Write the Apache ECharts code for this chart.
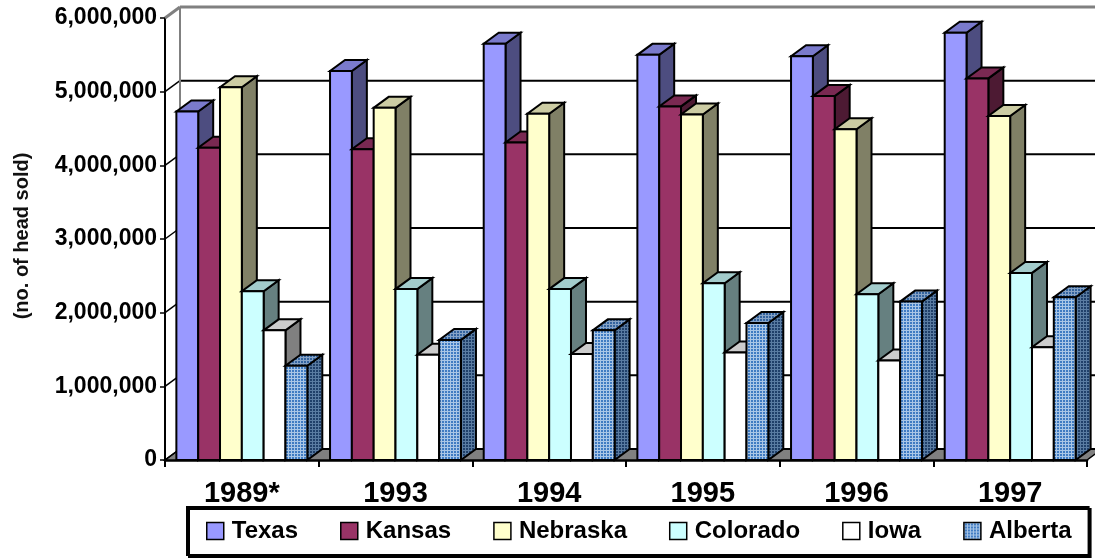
<!DOCTYPE html>
<html>
<head>
<meta charset="utf-8">
<script src="https://cdn.jsdelivr.net/npm/echarts@6/dist/echarts.min.js"></script>
<style>
  html, body { margin: 0; padding: 0; background: #fff; }
  #chart { width: 1095px; height: 559px; }
</style>
</head>
<body>
<div id="chart"></div>
<script>
// Cattle sold per year, by state / province (no. of head)
const categories = ['1989*', '1993', '1994', '1995', '1996', '1997'];
const seriesNames = ['Texas', 'Kansas', 'Nebraska', 'Colorado', 'Iowa', 'Alberta'];
const texas    = [4730000, 5280000, 5650000, 5500000, 5480000, 5800000];
const kansas   = [4240000, 4220000, 4310000, 4800000, 4940000, 5180000];
const nebraska = [5060000, 4780000, 4700000, 4690000, 4490000, 4670000];
const colorado = [2290000, 2320000, 2320000, 2400000, 2250000, 2540000];
const iowa     = [1760000, 1430000, 1440000, 1460000, 1350000, 1530000];
const alberta  = [1280000, 1630000, 1760000, 1860000, 2150000, 2210000];
const yTicks   = [0, 1000000, 2000000, 3000000, 4000000, 5000000, 6000000];
const yTitle   = '(no. of head sold)';

const FONT = '"Liberation Sans", Arial, sans-serif';
const DX = 15, DY = -11;        // oblique depth of the 3-D projection
const BAR_FRAC = 0.142;          // width of one column as a share of a category

// small tiled fill used for the Alberta columns
function gridPattern(base, line) {
  const c = document.createElement('canvas');
  c.width = 3; c.height = 3;
  const g = c.getContext('2d');
  g.fillStyle = base; g.fillRect(0, 0, 3, 3);
  g.fillStyle = line; g.fillRect(0, 0, 3, 1); g.fillRect(0, 0, 1, 3);
  return { image: c, repeat: 'repeat' };
}

const faces = [
  { front: '#9999FF', top: '#7A7ACC', side: '#4D4D80' },
  { front: '#993366', top: '#7A2952', side: '#4D1A33' },
  { front: '#FFFFCC', top: '#CCCCA3', side: '#808066' },
  { front: '#CCFFFF', top: '#A3CCCC', side: '#668080' },
  { front: '#FFFFFF', top: '#CCCCCC', side: '#808080' },
  { front: gridPattern('#3F7BC2', '#A9C6E6'),
    top:   gridPattern('#33639E', '#86A3C6'),
    side:  gridPattern('#20406A', '#5A7CA2') }
];
const values = [texas, kansas, nebraska, colorado, iowa, alberta];

const STROKE = { stroke: '#000', lineWidth: 2, lineJoin: 'miter' };

function makeBarRenderer(sIdx) {
  return function (params, api) {
    const cat = api.value(0), val = api.value(1);
    const base = api.coord([cat, 0]);
    const top = api.coord([cat, val]);
    const w = api.size([1, 0])[0] * BAR_FRAC;
    const x0 = base[0] - 3 * w + sIdx * w;
    const x1 = x0 + w, yb = base[1], yt = top[1];
    const f = faces[sIdx];
    return {
      type: 'group',
      children: [
        { type: 'polygon', shape: { points: [[x1, yt], [x1 + DX, yt + DY], [x1 + DX, yb + DY], [x1, yb]] },
          style: Object.assign({ fill: f.side }, STROKE) },
        { type: 'polygon', shape: { points: [[x0, yt], [x1, yt], [x1 + DX, yt + DY], [x0 + DX, yt + DY]] },
          style: Object.assign({ fill: f.top }, STROKE) },
        { type: 'rect', shape: { x: x0, y: yt, width: w, height: yb - yt },
          style: Object.assign({ fill: f.front }, STROKE) }
      ]
    };
  };
}

// back wall, side wall and floor of the 3-D box
function renderWalls(params, api) {
  const cs = params.coordSys;
  const left = cs.x, right = cs.x + cs.width;
  const y0 = api.coord([0, yTicks[0]])[1];
  const yMax = api.coord([0, yTicks[yTicks.length - 1]])[1];
  const children = [];
  children.push({ type: 'polygon',
    shape: { points: [[left, y0], [right, y0], [right + DX, y0 + DY], [left + DX, y0 + DY]] },
    style: { fill: '#808080', stroke: '#000', lineWidth: 1.5 } });
  yTicks.forEach(function (v, i) {
    const y = api.coord([0, v])[1];
    const isTop = i === yTicks.length - 1;
    const col = isTop ? '#808080' : '#000';
    const lw = isTop ? 3 : 2;
    children.push({ type: 'line', shape: { x1: left + DX, y1: y + DY, x2: right + DX + 20, y2: y + DY },
      style: { stroke: col, lineWidth: lw } });
    children.push({ type: 'line', shape: { x1: left, y1: y, x2: left + DX, y2: y + DY },
      style: { stroke: col, lineWidth: isTop ? 3 : 1.5 } });
  });
  children.push({ type: 'line', shape: { x1: left + DX, y1: yMax + DY, x2: left + DX, y2: y0 + DY },
    style: { stroke: '#808080', lineWidth: 2 } });
  return { type: 'group', children: children };
}

const chart = echarts.init(document.getElementById('chart'), null, { renderer: 'canvas' });

const series = [{
  type: 'custom',
  name: '_walls',
  renderItem: renderWalls,
  data: [[0, 0]],
  silent: true,
  z: 1,
  tooltip: { show: false }
}];
seriesNames.forEach(function (name, i) {
  series.push({
    type: 'custom',
    name: name,
    renderItem: makeBarRenderer(i),
    itemStyle: { color: faces[i].front },
    data: values[i].map(function (v, c) { return [c, v]; }),
    silent: true,
    z: 2 + i
  });
});

chart.setOption({
  animation: false,
  backgroundColor: '#fff',
  grid: { left: 165, right: 8, top: 18, bottom: 99, containLabel: false, outerBoundsMode: 'none' },
  xAxis: {
    type: 'category',
    data: categories,
    boundaryGap: true,
    axisLine: { lineStyle: { color: '#000', width: 2.5 } },
    axisTick: { show: true, length: 7, lineStyle: { color: '#000', width: 2 } },
    axisLabel: { fontFamily: FONT, fontSize: 29, fontWeight: 'bold', color: '#000', margin: 19 },
    splitLine: { show: false }
  },
  yAxis: {
    type: 'value',
    min: yTicks[0],
    max: yTicks[yTicks.length - 1],
    interval: yTicks[1] - yTicks[0],
    axisLine: { show: true, lineStyle: { color: '#000', width: 2 } },
    axisTick: { show: true, length: 5, lineStyle: { color: '#000', width: 1.5 } },
    axisLabel: {
      fontFamily: FONT, fontSize: 23, fontWeight: 'bold', color: '#000', margin: 8,
      formatter: function (v) { return v.toLocaleString('en-US'); }
    },
    splitLine: { show: false }
  },
  legend: {
    left: 187, top: 507,
    width: 900,
    icon: 'rect',
    itemWidth: 17, itemHeight: 17, itemGap: 42,
    padding: [12, 17, 12, 19],
    borderColor: '#000', borderWidth: 2,
    backgroundColor: '#fff',
    shadowColor: '#000', shadowOffsetX: 2, shadowOffsetY: 2, shadowBlur: 0,
    itemStyle: { borderColor: '#000', borderWidth: 1.5 },
    textStyle: { fontFamily: FONT, fontSize: 24, fontWeight: 'bold', color: '#000', padding: [0, 0, 0, 3] },
    data: seriesNames,
    selectedMode: false
  },
  graphic: [{
    type: 'text',
    x: 22, y: 236,
    rotation: Math.PI / 2,
    style: {
      text: yTitle,
      font: 'bold 20px ' + FONT,
      fill: '#111',
      textAlign: 'center',
      textVerticalAlign: 'middle'
    }
  }],
  series: series
});
</script>
</body>
</html>
